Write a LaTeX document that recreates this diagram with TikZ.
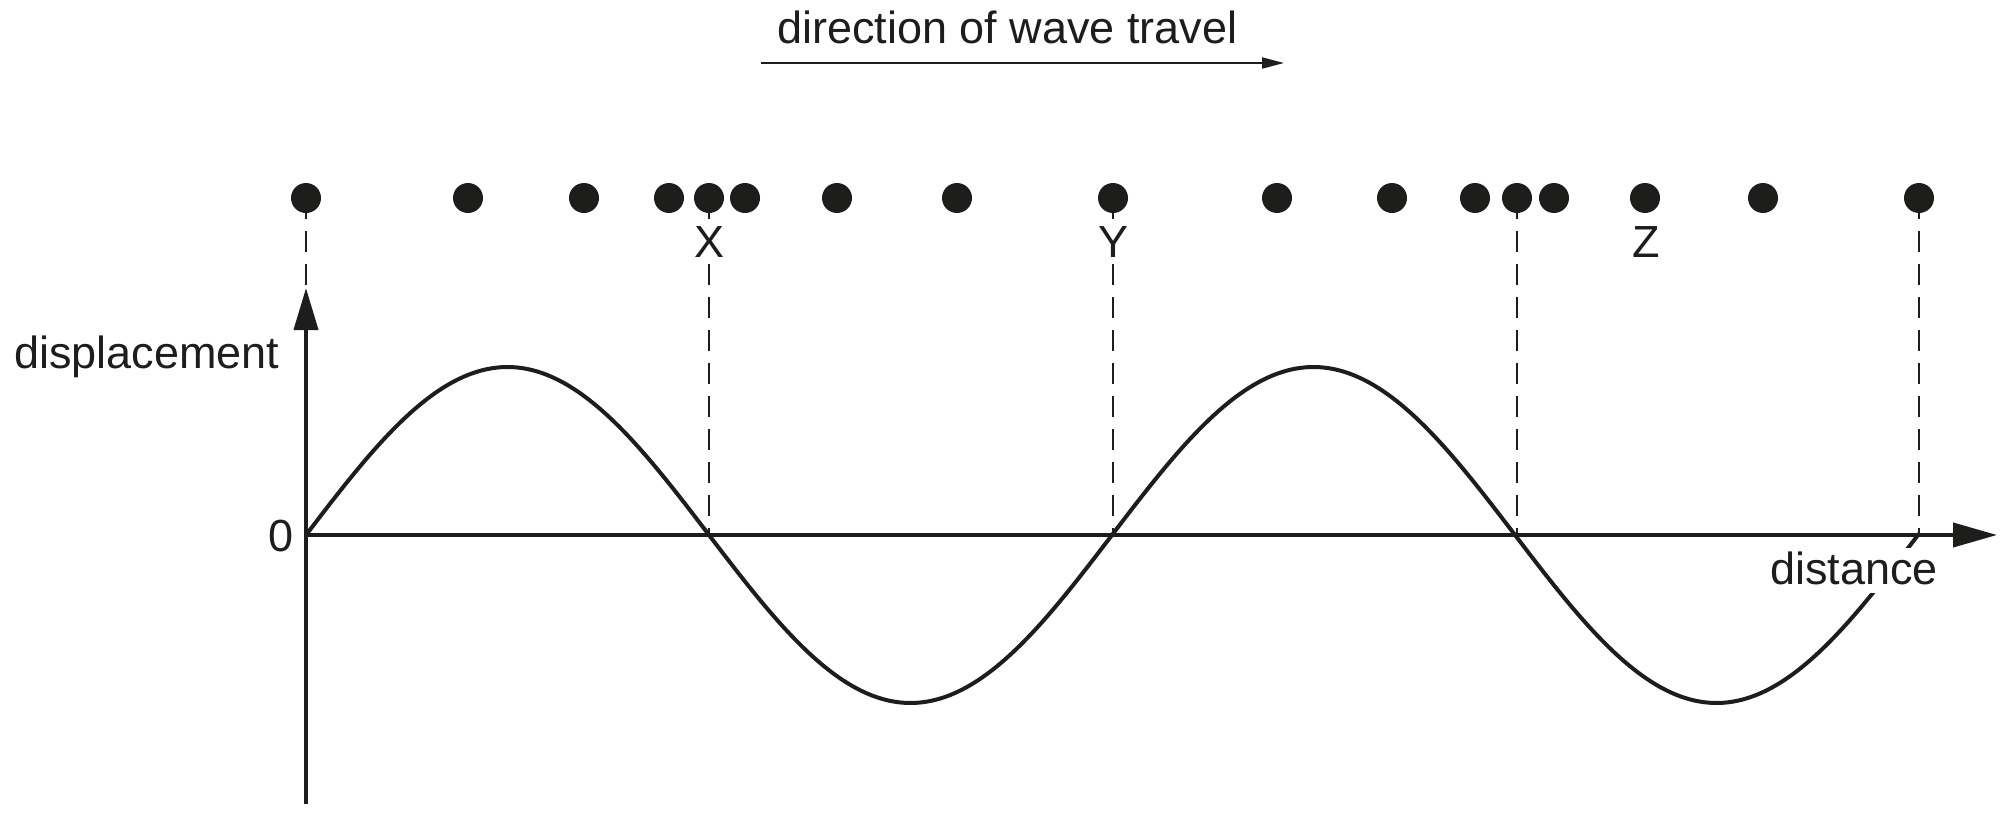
\documentclass[tikz,border=0pt]{standalone}
\usepackage{fontspec}
\setmainfont{Liberation Sans}
\usetikzlibrary{arrows.meta}
\definecolor{ink}{HTML}{1D1D1B}
\begin{document}
\begin{tikzpicture}[x=1pt,y=-1pt,
  dot/.style={circle,fill=ink,draw=none,minimum size=30pt,inner sep=0pt},
  dashline/.style={draw=ink,line width=2pt,dash pattern=on 21pt off 12pt},
  axisline/.style={draw=ink,line width=4pt},
  wave/.style={draw=ink,line width=4pt},
  lbl/.style={text=ink,font=\fontsize{45}{54}\selectfont,inner sep=0pt},
  ptlbl/.style={lbl,fill=white,inner xsep=2pt,inner ysep=4pt,anchor=base}]
\useasboundingbox (0,0) rectangle (2008,814);
% axes points
\coordinate (O) at (306,535);
\coordinate (yTip) at (306,288);
\coordinate (yBot) at (306,804);
\coordinate (xTip) at (1997,535);
\coordinate (a2) at (709,535);
\coordinate (a3) at (1113,535);
\coordinate (a4) at (1517,535);
\coordinate (a5) at (1919,535);
% particle positions
\foreach \n/\px in {1/306,2/468,3/584,4/669,5/709,6/745,7/837,8/957,9/1113,10/1277,11/1392,12/1475,13/1517,14/1554,15/1645,16/1763,17/1919}
  \coordinate (c\n) at (\px,198);
% dashed guide lines
\draw[dashline] (c1) -- (yTip);
\draw[dashline] (c5) -- (a2);
\draw[dashline] (c9) -- (a3);
\draw[dashline] (c13) -- (a4);
\draw[dashline] (c17) -- (a5);
% axes
\draw[axisline,-{Triangle[length=42pt,width=24pt]}] (yBot) -- (yTip);
\draw[axisline,-{Triangle[length=44pt,width=24pt]}] (O) -- (xTip);
% wave
\draw[wave,line join=round] plot[domain=0:1613,samples=200,smooth] ({306+\x},{535-168*sin(\x/806*360)});
% labels
\node[ptlbl] (lx) at (709,257) {X};
\node[ptlbl] (ly) at (1113,257) {Y};
\node[ptlbl] (lz) at (1646,257) {Z};
\node[lbl,anchor=base west] (ldisp) at (14,368) {displacement};
\node[lbl,anchor=base east] (lzero) at (294,551) {0};
\node[lbl,anchor=base west,fill=white,inner xsep=2pt,inner ysep=3pt,text depth=6pt] (ldist) at (1768,584) {distance};
\node[lbl,anchor=base west] (ldir) at (777,43) {direction of wave travel};
\coordinate (dirA) at (761,63);
\coordinate (dirB) at (1284,63);
\draw[draw=ink,line width=2pt,-{Triangle[length=22pt,width=11pt]}] (dirA) -- (dirB);
% particles
\foreach \n in {1,...,17}
  \node[dot] (p\n) at (c\n) {};
\end{tikzpicture}
\end{document}
